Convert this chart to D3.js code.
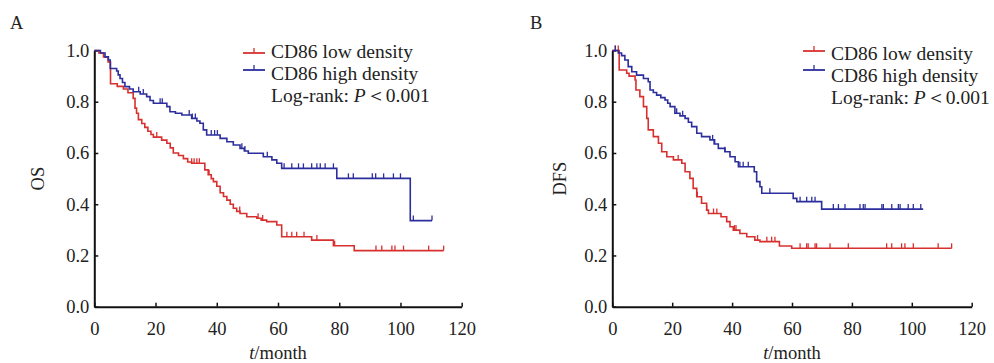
<!DOCTYPE html>
<html>
<head>
<meta charset="utf-8">
<script src="https://cdn.jsdelivr.net/npm/d3@7"></script>
<style>
body { margin: 0; background: #fff; }
svg { display: block; font-family: "Liberation Serif", "Times New Roman", serif; font-size: 18.5px; fill: #222; }
</style>
</head>
<body>
<div id="chart"></div>
<script>
const width = 994;
const height = 363;

const x_ticks = [0, 20, 40, 60, 80, 100, 120];
const y_ticks = [0, 0.2, 0.4, 0.6, 0.8, 1.0];
const legend_labels = ["CD86 low density", "CD86 high density"];
const panel_letters = ["A", "B"];
const y_titles = ["OS", "DFS"];

// [time, survival] after each step
const os_low_steps = [[0,1.0],[1.5,0.99],[3,0.975],[4.5,0.955],[5.3,0.87],[7.5,0.86],[9.5,0.85],[11,0.835],[12.7,0.813],[13.3,0.775],[13.8,0.755],[14.4,0.73],[15.5,0.715],[16.5,0.70],[17.5,0.685],[18.5,0.672],[19.3,0.662],[22,0.65],[23.7,0.638],[24.8,0.62],[25.8,0.60],[27.5,0.59],[29.1,0.578],[30.5,0.565],[31.8,0.56],[36.1,0.534],[37.2,0.515],[38.2,0.50],[38.9,0.488],[40,0.47],[41.1,0.445],[42.2,0.43],[43.3,0.416],[44.4,0.40],[45.4,0.384],[46.5,0.372],[47.6,0.364],[49.8,0.351],[53.1,0.345],[54.5,0.338],[56.3,0.332],[59.6,0.319],[61.2,0.273],[71.0,0.26],[78.1,0.238],[84.9,0.219]];
const os_low_end = 114.1;
const os_low_censor = [20.4, 31.8, 32.6, 33.5, 34.3, 37.5, 47.5, 53.5, 55, 62.9, 64.5, 66.1, 68.5, 72.7, 78.5, 92, 93.9, 97.2, 98.2, 101, 109.2, 114.1];

const os_high_steps = [[0,1.0],[2,0.99],[3.5,0.975],[4.6,0.963],[5.2,0.93],[7.3,0.92],[7.8,0.905],[8.4,0.891],[9.2,0.875],[10,0.859],[11.5,0.85],[12.7,0.839],[15,0.83],[17.1,0.82],[18.2,0.805],[19.3,0.794],[23.7,0.781],[24.7,0.761],[26.5,0.755],[28.6,0.748],[31.8,0.735],[33.5,0.725],[34.5,0.716],[35.6,0.69],[36.7,0.67],[41.1,0.657],[43.3,0.644],[45.4,0.631],[47.6,0.618],[49,0.608],[50.3,0.599],[55.2,0.585],[58,0.573],[59.6,0.56],[61.2,0.54],[79.2,0.501],[103.2,0.336]];
const os_high_end = 110.3;
const os_high_censor = [14.5, 16, 21.5, 22.2, 31, 32, 33, 38.2, 39.3, 40.2, 48.2, 49.2, 56.5, 62, 64.5, 66.7, 68.3, 71, 72.7, 73.8, 75.4, 78.1, 83, 84.6, 90.8, 91.9, 94.5, 97.7, 100, 104.2, 110.3];

const dfs_low_steps = [[0,1.0],[2.3,0.924],[4.8,0.911],[5.6,0.9],[7.6,0.885],[7.9,0.846],[9.2,0.82],[10.4,0.781],[11.5,0.735],[12,0.69],[13.7,0.664],[15.4,0.638],[16.5,0.605],[18.2,0.585],[20.4,0.573],[23.2,0.56],[24.3,0.527],[25.9,0.501],[27,0.462],[28.2,0.429],[29.8,0.404],[31.5,0.377],[32.1,0.364],[36.3,0.351],[38.2,0.332],[39.3,0.312],[40.4,0.299],[42.6,0.286],[44.9,0.273],[47.6,0.26],[49.3,0.254],[55.8,0.237],[59.9,0.228]];
const dfs_low_end = 113.3;
const dfs_low_censor = [1, 2, 22, 28.4, 31.5, 33.8, 34.9, 40.8, 41.3, 48.5, 51.6, 53.2, 54.3, 62.7, 64.9, 65.4, 67.7, 68.2, 72.7, 78.8, 91.6, 93.3, 96.6, 97.7, 100.5, 108.8, 113.3];

const dfs_high_steps = [[0,1.0],[2,0.99],[3.1,0.98],[4.2,0.963],[5.3,0.937],[6.5,0.917],[8.1,0.904],[10.4,0.891],[12,0.878],[12.6,0.846],[13.7,0.836],[14.8,0.826],[16.2,0.816],[17.6,0.807],[18.5,0.794],[19.3,0.781],[20.9,0.755],[22.6,0.745],[24.3,0.735],[25.4,0.72],[26.5,0.703],[28.2,0.677],[29.8,0.664],[32.6,0.651],[34,0.635],[35.4,0.618],[37.6,0.605],[39.3,0.585],[41,0.566],[42.1,0.546],[47.4,0.527],[48.2,0.488],[49.3,0.468],[49.9,0.443],[60.4,0.423],[61.6,0.41],[69.9,0.381]];
const dfs_high_end = 103.8;
const dfs_high_censor = [1, 21.5, 23.5, 33.5, 34.2, 37.6, 42.6, 43.7, 45.4, 52.6, 62.7, 64.9, 66.6, 67.7, 73.8, 75.5, 77.7, 82.7, 83.8, 84.4, 90, 90.5, 93.3, 95.5, 96.1, 98.8, 100.5, 103];

const red = "#d8302f";
const blue = "#2b2e9c";

let svg = d3.select("#chart").append("svg")
	.attr("width", width)
	.attr("height", height);

let panels = [
	{ letter: panel_letters[0], title: y_titles[0], x0: 94.3, x1: 461.7, letter_x: 10, title_x: 38, legend_x: 243, legend_line_y: [53, 70], legend_text_y: [57.5, 79.5, 101.5],
	  curves: [ { steps: os_low_steps, end: os_low_end, censor: os_low_censor, color: red },
	            { steps: os_high_steps, end: os_high_end, censor: os_high_censor, color: blue } ] },
	{ letter: panel_letters[1], title: y_titles[1], x0: 612.3, x1: 971.7, letter_x: 530, title_x: 560, legend_x: 803, legend_line_y: [51, 70], legend_text_y: [60, 82, 104],
	  curves: [ { steps: dfs_low_steps, end: dfs_low_end, censor: dfs_low_censor, color: red },
	            { steps: dfs_high_steps, end: dfs_high_end, censor: dfs_high_censor, color: blue } ] }
];

const y_bottom = 306.7;
const y_top = 50.5;

function survival_at(steps, t) {
	let s = steps[0][1];
	for (let i = 0; i < steps.length; i++) {
		if (steps[i][0] <= t) s = steps[i][1];
	}
	return s;
}

function draw_panel(p) {
	let g = svg.append("g");

	let xScale = d3.scaleLinear().domain([0, 120]).range([p.x0, p.x1]);
	let yScale = d3.scaleLinear().domain([0, 1]).range([y_bottom, y_top]);

	// axes
	let xa = g.append("g")
		.attr("transform", "translate(0," + y_bottom + ")")
		.call(d3.axisBottom(xScale).tickValues(x_ticks).tickSizeInner(-4).tickSizeOuter(0).tickPadding(15).tickFormat(d3.format("d")));
	let ya = g.append("g")
		.attr("transform", "translate(" + p.x0 + ",0)")
		.call(d3.axisLeft(yScale).tickValues(y_ticks).tickSizeInner(-4).tickSizeOuter(0).tickPadding(5).tickFormat(d3.format(".1f")));
	[xa, ya].forEach(function(a) {
		a.attr("font-family", null).attr("font-size", null);
		a.select(".domain").attr("stroke", "#111").attr("stroke-width", 2);
		a.selectAll(".tick line").attr("stroke", "#111").attr("stroke-width", 1.5);
		a.selectAll(".tick text").attr("fill", "#222");
	});

	// KM curves
	let line = d3.line()
		.x(function(d) { return xScale(d[0]); })
		.y(function(d) { return yScale(d[1]); })
		.curve(d3.curveStepAfter);

	p.curves.forEach(function(c) {
		let pts = c.steps.concat([[c.end, c.steps[c.steps.length - 1][1]]]);
		g.append("path")
			.datum(pts)
			.attr("fill", "none")
			.attr("stroke", c.color)
			.attr("stroke-width", 1.6)
			.attr("d", line);
		g.selectAll(null)
			.data(c.censor)
			.enter().append("line")
			.attr("x1", function(d) { return xScale(d); })
			.attr("x2", function(d) { return xScale(d); })
			.attr("y1", function(d) { return yScale(survival_at(c.steps, d)); })
			.attr("y2", function(d) { return yScale(survival_at(c.steps, d)) - 5; })
			.attr("stroke", c.color)
			.attr("stroke-width", 1.3);
	});

	// legend
	p.curves.forEach(function(c, i) {
		let ly = p.legend_line_y[i];
		g.append("line")
			.attr("x1", p.legend_x).attr("x2", p.legend_x + 22)
			.attr("y1", ly).attr("y2", ly)
			.attr("stroke", c.color).attr("stroke-width", 1.8);
		g.append("line")
			.attr("x1", p.legend_x + 11).attr("x2", p.legend_x + 11)
			.attr("y1", ly).attr("y2", ly - 5)
			.attr("stroke", c.color).attr("stroke-width", 1.3);
		g.append("text")
			.attr("x", p.legend_x + 28)
			.attr("y", p.legend_text_y[i])
			.attr("font-size", 19.5)
			.text(legend_labels[i]);
	});
	let lr = g.append("text")
		.attr("x", p.legend_x + 28)
		.attr("y", p.legend_text_y[2])
		.attr("font-size", 19.5);
	lr.append("tspan").text("Log-rank: ");
	lr.append("tspan").attr("font-style", "italic").text("P");
	lr.append("tspan").text("\uFF1C0.001");

	// titles
	g.append("text")
		.attr("x", p.letter_x)
		.attr("y", 29)
		.text(p.letter);
	g.append("text")
		.attr("transform", "translate(" + (p.title_x + 6) + "," + ((y_top + y_bottom) / 2) + ") rotate(-90)")
		.attr("text-anchor", "middle")
		.text(p.title);
	let xt = g.append("text")
		.attr("x", (p.x0 + p.x1) / 2)
		.attr("y", 359)
		.attr("text-anchor", "middle");
	xt.append("tspan").attr("font-style", "italic").text("t");
	xt.append("tspan").text("/month");
}

panels.forEach(draw_panel);
</script>
</body>
</html>
